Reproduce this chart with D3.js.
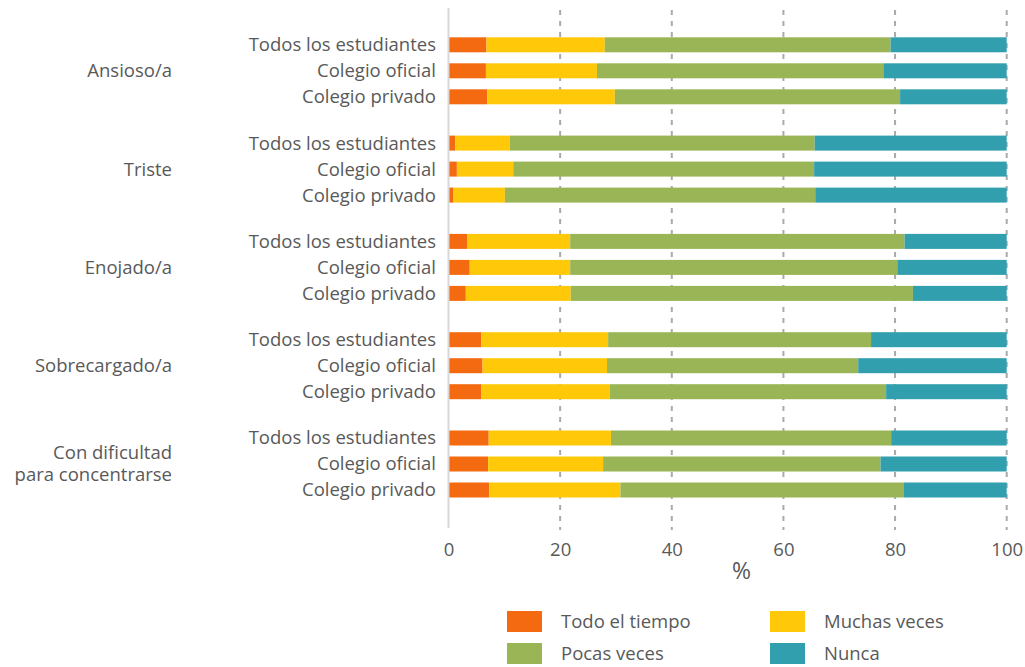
<!DOCTYPE html>
<html><head><meta charset="utf-8">
<script src="https://cdn.jsdelivr.net/npm/d3@7"></script>
<style>body{margin:0;background:#fff}text{font-family:"Open Sans",sans-serif;fill:#595959}</style>
</head><body><svg id="c" width="1025" height="667"></svg>
<script>
const groups = ["Ansioso/a","Triste","Enojado/a","Sobrecargado/a","Con dificultad\npara concentrarse"];
const subgroups = ["Todos los estudiantes","Colegio oficial","Colegio privado"];
const seriesNames = ["Todo el tiempo","Muchas veces","Pocas veces","Nunca"];
const colors = ["#F36A10","#FFC90A","#9AB555","#329FAF"];
// values per row (group x subgroup), in %
const todoElTiempo = [6.8,6.7,6.95, 1.2,1.5,0.9, 3.4,3.8,3.1, 5.9,6.1,5.9, 7.2,7.1,7.3];
const muchasVeces  = [21.2,19.9,22.85, 9.8,10.1,9.2, 18.4,18.0,18.8, 22.7,22.3,23.0, 21.9,20.6,23.5];
const pocasVeces   = [51.2,51.3,51.1, 54.6,53.9,55.6, 59.9,58.6,61.3, 47.1,45.0,49.5, 50.2,49.7,50.8];
const nunca        = [20.8,22.1,19.1, 34.4,34.5,34.3, 18.3,19.6,16.8, 24.3,26.6,21.6, 20.7,22.6,18.4];
const xTicks = [0,20,40,60,80,100];

const rows = [];
groups.forEach((g,gi)=>subgroups.forEach((s,si)=>{
  const k = gi*3+si;
  rows.push({g, s, vals:[todoElTiempo[k],muchasVeces[k],pocasVeces[k],nunca[k]]});
}));

const FS = 18.5;
const svg = d3.select("#c");
const x = d3.scaleLinear().domain([0,100]).range([448.5,1006.7]);
const yOuter = d3.scaleBand().domain(groups).range([31.8,503]).paddingInner(0.2065).paddingOuter(0);
const yInner = d3.scaleBand().domain(subgroups).range([0,yOuter.bandwidth()]).paddingInner(0.423).paddingOuter(0.2115);

// grid
svg.append("g").selectAll("line").data(xTicks.filter(d=>d>0)).join("line")
  .attr("x1",d=>x(d)).attr("x2",d=>x(d)).attr("y1",10).attr("y2",530)
  .attr("stroke","#AAAAAA").attr("stroke-width",2).attr("stroke-dasharray","5,6");

// bars
const rowG = svg.append("g").selectAll("g").data(rows).join("g")
  .attr("transform",d=>`translate(0,${yOuter(d.g)+yInner(d.s)})`);
rowG.selectAll("rect").data(d=>{
  let c=0; return d.vals.map((v,i)=>{const o={x0:c,x1:c+v,i}; c+=v; return o;});
}).join("rect")
  .attr("x",d=>x(d.x0)).attr("width",d=>x(d.x1)-x(d.x0))
  .attr("y",0).attr("height",yInner.bandwidth())
  .attr("fill",d=>colors[d.i]);

// axis line at 0
svg.append("line").attr("x1",x(0)).attr("x2",x(0)).attr("y1",8).attr("y2",528)
  .attr("stroke","#D8D8D8").attr("stroke-width",2);

// x axis tick labels
const xAxis = d3.axisBottom(x).tickValues(xTicks).tickSize(0).tickPadding(0);
const ax = svg.append("g").attr("transform","translate(0,538)").call(xAxis);
ax.select(".domain").remove();
ax.selectAll("text").attr("font-size",18.5).attr("dy","0.95em").style("font-family","'Open Sans',sans-serif").attr("fill","#595959");
svg.append("text").attr("x",x(52.5)).attr("y",579).attr("text-anchor","middle").attr("font-size",23).text("%");

// sub labels
rowG.append("text").attr("x",436).attr("y",yInner.bandwidth()/2).attr("dy","0.35em")
  .attr("text-anchor","end").attr("font-size",FS).text(d=>d.s);

// group labels
svg.append("g").selectAll("text").data(groups).join("text")
  .attr("x",172).attr("text-anchor","end").attr("font-size",FS)
  .each(function(d){
    const lines = d.split("\n");
    const cy = yOuter(d)+yOuter.bandwidth()/2;
    const t = d3.select(this).attr("y",cy);
    lines.forEach((l,i)=>t.append("tspan").attr("x",172)
      .attr("dy", i===0 ? ((0.35-(lines.length-1)*0.62)+"em") : "1.2em").text(l));
  });

// legend
const legX = [507,770], legY = [611,643];
const leg = svg.append("g").selectAll("g").data(seriesNames).join("g")
  .attr("transform",(d,i)=>`translate(${legX[i%2]},${legY[Math.floor(i/2)]})`);
leg.append("rect").attr("width",35).attr("height",21).attr("fill",(d,i)=>colors[i]);
leg.append("text").attr("x",54).attr("y",10.5).attr("dy","0.35em").attr("font-size",FS).text(d=>d);
</script></body></html>
